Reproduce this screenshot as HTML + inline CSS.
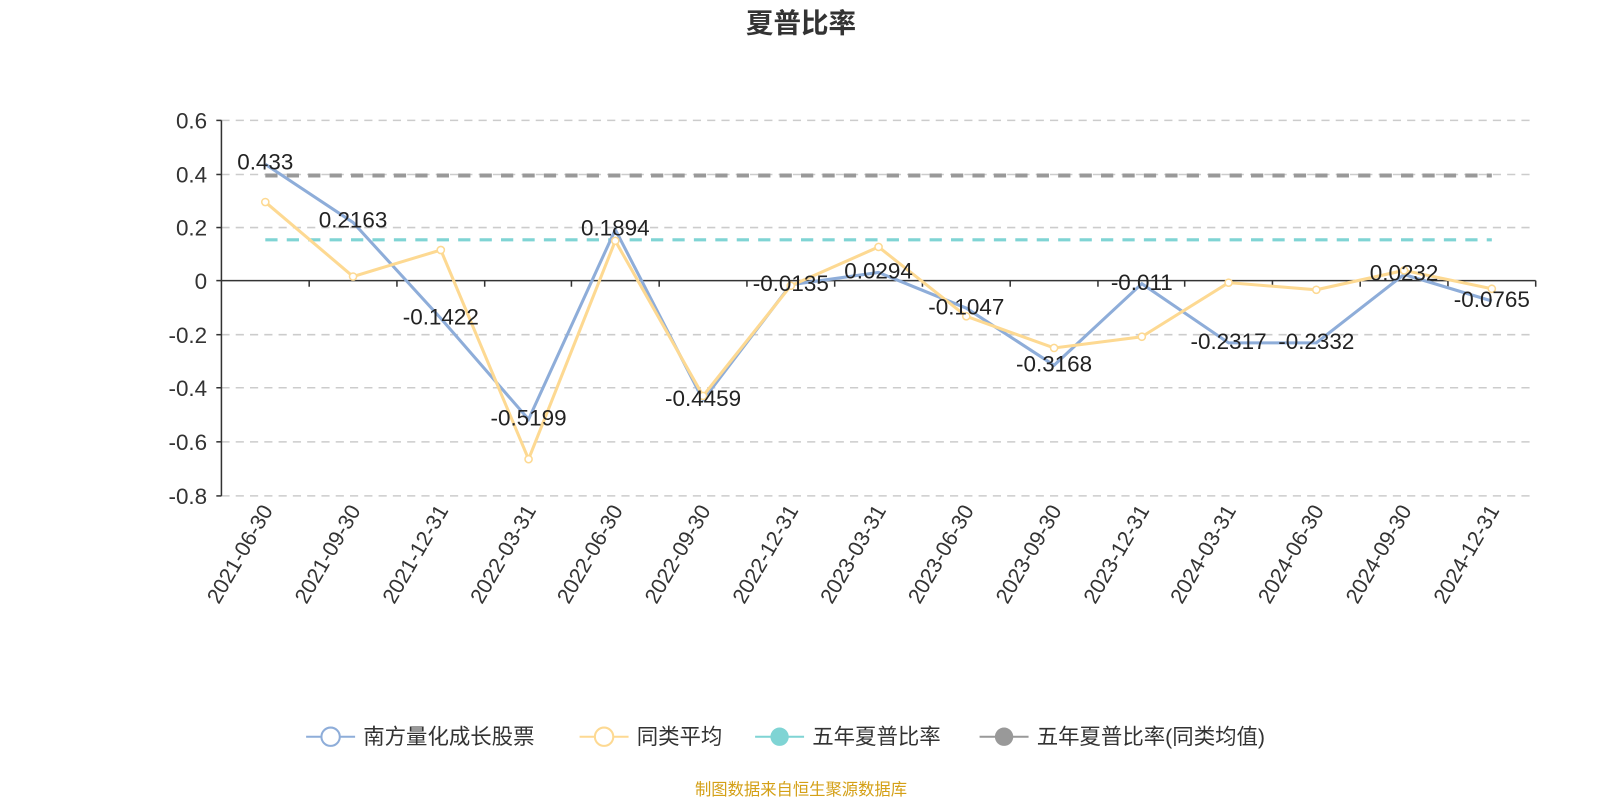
<!DOCTYPE html>
<html><head><meta charset="utf-8"><style>
body{margin:0;background:#fff;}
svg text{font-family:"Liberation Sans","Noto Sans CJK SC",sans-serif;}
</style></head><body>
<svg width="1600" height="800" xmlns="http://www.w3.org/2000/svg">
<g transform="scale(1.0204)">
<text x="785" y="32" text-anchor="middle" font-size="27" font-weight="bold" fill="#333">夏普比率</text>
<g stroke="#ccc" stroke-dasharray="8,6" stroke-width="1.5">
<line x1="217" x2="1505" y1="118" y2="118"/><line x1="217" x2="1505" y1="171" y2="171"/>
<line x1="217" x2="1505" y1="223" y2="223"/><line x1="217" x2="1505" y1="328" y2="328"/>
<line x1="217" x2="1505" y1="380" y2="380"/><line x1="217" x2="1505" y1="433" y2="433"/>
<line x1="217" x2="1505" y1="486" y2="486"/>
</g>
<line x1="217" x2="217" y1="118" y2="486" stroke="#333" stroke-width="1.5"/>
<line x1="217" x2="1505" y1="275" y2="275" stroke="#333" stroke-width="1.5"/>
<g stroke="#333" stroke-width="1.5">
<line x1="212" x2="217" y1="118" y2="118"/><line x1="212" x2="217" y1="171" y2="171"/><line x1="212" x2="217" y1="223" y2="223"/><line x1="212" x2="217" y1="275" y2="275"/><line x1="212" x2="217" y1="328" y2="328"/><line x1="212" x2="217" y1="380" y2="380"/><line x1="212" x2="217" y1="433" y2="433"/><line x1="212" x2="217" y1="486" y2="486"/>
<line x1="303" x2="303" y1="275" y2="281"/><line x1="389" x2="389" y1="275" y2="281"/><line x1="475" x2="475" y1="275" y2="281"/><line x1="560" x2="560" y1="275" y2="281"/><line x1="646" x2="646" y1="275" y2="281"/><line x1="732" x2="732" y1="275" y2="281"/><line x1="818" x2="818" y1="275" y2="281"/><line x1="904" x2="904" y1="275" y2="281"/><line x1="990" x2="990" y1="275" y2="281"/><line x1="1076" x2="1076" y1="275" y2="281"/><line x1="1161" x2="1161" y1="275" y2="281"/><line x1="1247" x2="1247" y1="275" y2="281"/><line x1="1333" x2="1333" y1="275" y2="281"/><line x1="1419" x2="1419" y1="275" y2="281"/><line x1="1505" x2="1505" y1="275" y2="281"/>
</g>
<g font-size="22" fill="#333" text-anchor="end">
<text x="203" y="126">0.6</text><text x="203" y="179">0.4</text><text x="203" y="231">0.2</text><text x="203" y="283">0</text><text x="203" y="336">-0.2</text><text x="203" y="388">-0.4</text><text x="203" y="441">-0.6</text><text x="203" y="494">-0.8</text>
</g>
<g font-size="21" fill="#333" text-anchor="end">
<text transform="translate(268,500) rotate(-60)">2021-06-30</text>
<text transform="translate(354,500) rotate(-60)">2021-09-30</text>
<text transform="translate(440,500) rotate(-60)">2021-12-31</text>
<text transform="translate(526,500) rotate(-60)">2022-03-31</text>
<text transform="translate(611,500) rotate(-60)">2022-06-30</text>
<text transform="translate(697,500) rotate(-60)">2022-09-30</text>
<text transform="translate(783,500) rotate(-60)">2022-12-31</text>
<text transform="translate(869,500) rotate(-60)">2023-03-31</text>
<text transform="translate(955,500) rotate(-60)">2023-06-30</text>
<text transform="translate(1041,500) rotate(-60)">2023-09-30</text>
<text transform="translate(1127,500) rotate(-60)">2023-12-31</text>
<text transform="translate(1212,500) rotate(-60)">2024-03-31</text>
<text transform="translate(1298,500) rotate(-60)">2024-06-30</text>
<text transform="translate(1384,500) rotate(-60)">2024-09-30</text>
<text transform="translate(1470,500) rotate(-60)">2024-12-31</text>
</g>
<line x1="260" x2="1462" y1="235" y2="235" stroke="#7fd4d4" stroke-width="3" stroke-dasharray="12,9"/>
<line x1="260" x2="1462" y1="172" y2="172" stroke="#999" stroke-width="4" stroke-dasharray="12,9"/>
<polyline fill="none" stroke="#8eadd9" stroke-width="3" points="260,161 346,218 432,312 518,411 603,225 689,392 775,279 861,267 947,302 1033,358 1119,278 1204,336 1290,336 1376,269 1462,295"/>
<polyline fill="none" stroke="#fdd992" stroke-width="3" points="260,198 346,271 432,245 518,450 603,236 689,388 775,280 861,242 947,310 1033,341 1119,330 1204,277 1290,284 1376,265 1462,283"/>
<g fill="#fff" stroke="#fdd992" stroke-width="1.5">
<circle cx="260" cy="198" r="3.5"/><circle cx="346" cy="271" r="3.5"/><circle cx="432" cy="245" r="3.5"/><circle cx="518" cy="450" r="3.5"/><circle cx="603" cy="236" r="3.5"/><circle cx="689" cy="388" r="3.5"/><circle cx="775" cy="280" r="3.5"/><circle cx="861" cy="242" r="3.5"/><circle cx="947" cy="310" r="3.5"/><circle cx="1033" cy="341" r="3.5"/><circle cx="1119" cy="330" r="3.5"/><circle cx="1204" cy="277" r="3.5"/><circle cx="1290" cy="284" r="3.5"/><circle cx="1376" cy="265" r="3.5"/><circle cx="1462" cy="283" r="3.5"/>
</g>
<g font-size="22" fill="#222" text-anchor="middle">
<text x="260" y="166">0.433</text><text x="346" y="223">0.2163</text><text x="432" y="318">-0.1422</text><text x="518" y="417">-0.5199</text><text x="603" y="231">0.1894</text><text x="689" y="398">-0.4459</text><text x="775" y="285">-0.0135</text><text x="861" y="273">0.0294</text><text x="947" y="308">-0.1047</text><text x="1033" y="364">-0.3168</text><text x="1119" y="284">-0.011</text><text x="1204" y="342">-0.2317</text><text x="1290" y="342">-0.2332</text><text x="1376" y="275">0.0232</text><text x="1462" y="301">-0.0765</text>
</g>
<g font-size="21" fill="#333">
<line x1="300" x2="348" y1="722" y2="722" stroke="#8eadd9" stroke-width="2"/><circle cx="324" cy="722" r="9" fill="#fff" stroke="#8eadd9" stroke-width="2"/><text x="356" y="729">南方量化成长股票</text>
<line x1="568" x2="616" y1="722" y2="722" stroke="#fdd992" stroke-width="2"/><circle cx="592" cy="722" r="9" fill="#fff" stroke="#fdd992" stroke-width="2"/><text x="624" y="729">同类平均</text>
<line x1="740" x2="788" y1="722" y2="722" stroke="#7fd4d4" stroke-width="2"/><circle cx="764" cy="722" r="9" fill="#7fd4d4"/><text x="796" y="729">五年夏普比率</text>
<line x1="960" x2="1008" y1="722" y2="722" stroke="#999" stroke-width="2"/><circle cx="984" cy="722" r="9" fill="#999"/><text x="1016" y="729">五年夏普比率(同类均值)</text>
</g>
<text x="785" y="779" text-anchor="middle" font-size="16" fill="#d4a017">制图数据来自恒生聚源数据库</text>
</g>
</svg>
</body></html>
